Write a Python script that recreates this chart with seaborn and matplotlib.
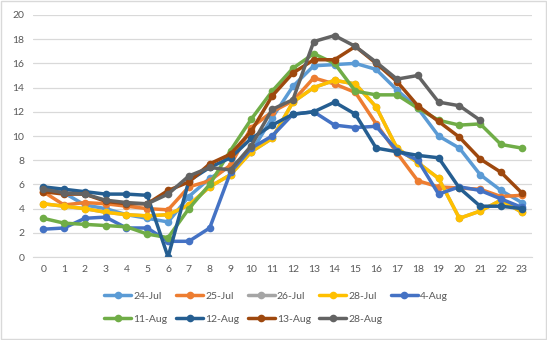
import numpy as np
import pandas as pd
import matplotlib
matplotlib.use("Agg")
import matplotlib.pyplot as plt
from matplotlib.lines import Line2D
from matplotlib.patches import Rectangle
import seaborn as sns

hours = list(range(24))
series_names = ["24-Jul", "25-Jul", "26-Jul", "28-Jul", "4-Aug",
                "11-Aug", "12-Aug", "13-Aug", "28-Aug"]

jul24 = [5.7, 5.3, 4.3, 4.0, 3.5, 3.2, 2.9, 5.0, 6.5, 7.5, 8.7, 11.5, 14.1, 15.8, 15.9, 16.0, 15.5, 13.8, 12.3, 10.0, 9.0, 6.8, 5.5, 4.5]
jul25 = [5.4, 4.3, 4.5, 4.4, 4.2, 4.0, 3.9, 5.8, 6.3, 7.6, 10.7, 12.0, 12.9, 14.8, 14.3, 13.6, 11.0, 8.6, 6.3, 5.8, 5.7, 5.6, 5.0, 5.1]
jul26 = [4.4, 4.2, 4.0, 3.7, 3.5, 3.4, 3.5, 4.3, 5.8, 6.8, 8.7, 9.8, 12.8, 14.0, 14.6, 14.3, 12.4, 9.0, 7.8, 6.5, 3.2, 3.8, 4.7, 3.7]
jul28 = [4.4, 4.2, 4.0, 3.7, 3.5, 3.4, 3.5, 4.3, 5.8, 6.8, 8.7, 9.8, 12.8, 14.0, 14.6, 14.3, 12.4, 9.0, 7.8, 6.5, 3.2, 3.8, 4.7, 3.7]
aug4 = [2.3, 2.4, 3.2, 3.3, 2.4, 2.4, 1.3, 1.3, 2.4, 7.0, 9.0, 10.0, 11.8, 12.0, 10.9, 10.7, 10.8, 8.8, 8.0, 5.2, 5.8, 5.5, 4.8, 4.1]
aug11 = [3.2, 2.8, 2.7, 2.6, 2.5, 1.9, 1.6, 4.0, 6.0, 8.8, 11.4, 13.7, 15.6, 16.8, 16.0, 13.7, 13.4, 13.4, 12.3, 11.3, 10.9, 11.0, 9.3, 9.0]
aug12 = [5.8, 5.6, 5.4, 5.2, 5.2, 5.1, 0.0, 6.3, 7.4, 8.2, 9.8, 10.9, 11.8, 12.0, 12.8, 11.8, 9.0, 8.7, 8.4, 8.2, 5.7, 4.2, 4.2, 4.0]
aug13 = [5.4, 5.2, 5.2, 4.6, 4.4, 4.4, 5.5, 6.2, 7.7, 8.5, 10.4, 13.3, 15.2, 16.3, 16.3, 17.4, 16.0, 14.5, 12.5, 11.2, 9.9, 8.1, 7.0, 5.3]
aug28 = [5.6, 5.3, 5.2, 4.7, 4.5, 4.4, 5.2, 6.7, 7.4, 7.2, 9.2, 12.2, 13.0, 17.8, 18.3, 17.4, 16.1, 14.7, 15.0, 12.8, 12.5, 11.3, np.nan, np.nan]

all_values = [jul24, jul25, jul26, jul28, aug4, aug11, aug12, aug13, aug28]
colors = ["#5B9BD5", "#ED7D31", "#A5A5A5", "#FFC000", "#4472C4",
          "#70AD47", "#255E91", "#9E480E", "#636363"]

rows = []
for name, vals in zip(series_names, all_values):
    for h, v in zip(hours, vals):
        if not np.isnan(v):
            rows.append({"hour": h, "value": v, "series": name})
df = pd.DataFrame(rows)

sns.set_style("white")
plt.rcParams["font.family"] = ["Lato", "DejaVu Sans"]

fig = plt.figure(figsize=(5.47, 3.40), dpi=100)
ax = fig.add_axes([0.060, 0.244, 0.913, 0.712])

sns.lineplot(data=df, x="hour", y="value", hue="series", hue_order=series_names,
             palette=colors, marker="o", markersize=5.5, markeredgewidth=0,
             linewidth=2.5, legend=False, ax=ax, sort=True)

ax.set_xlim(-0.5, 23.5)
ax.set_ylim(0, 20)
ax.set_xticks(hours)
ax.set_xticklabels([str(h) for h in hours])
ax.set_yticks(range(0, 21, 2))
ax.grid(axis="y", color="#D9D9D9", linewidth=0.9)
ax.set_axisbelow(True)
for s in ["top", "right", "left"]:
    ax.spines[s].set_visible(False)
ax.spines["bottom"].set_color("#D9D9D9")
ax.tick_params(axis="both", length=0, labelsize=7.5, labelcolor="#595959", pad=6)
ax.set_xlabel("")
ax.set_ylabel("")

# legend in row-major order (matplotlib fills columns first)
order = [0, 5, 1, 6, 2, 7, 3, 8, 4]
handles = [Line2D([0], [0], color=colors[i], linewidth=2.5, marker="o", markersize=5.5,
                  markeredgewidth=0) for i in order]
labels = [series_names[i] for i in order]
fig.legend(handles, labels, loc="upper center", bbox_to_anchor=(0.505, 0.155),
           ncol=5, frameon=False, fontsize=7.5, labelcolor="#595959",
           handlelength=2.6, handletextpad=0.2, columnspacing=0.8,
           labelspacing=1.3, borderaxespad=0)

fig.patches.append(Rectangle((0.001, 0.002), 0.997, 0.996, transform=fig.transFigure,
                             fill=False, edgecolor="#D9D9D9", linewidth=1.0))

fig.savefig("out.png", dpi=100, facecolor="white")
